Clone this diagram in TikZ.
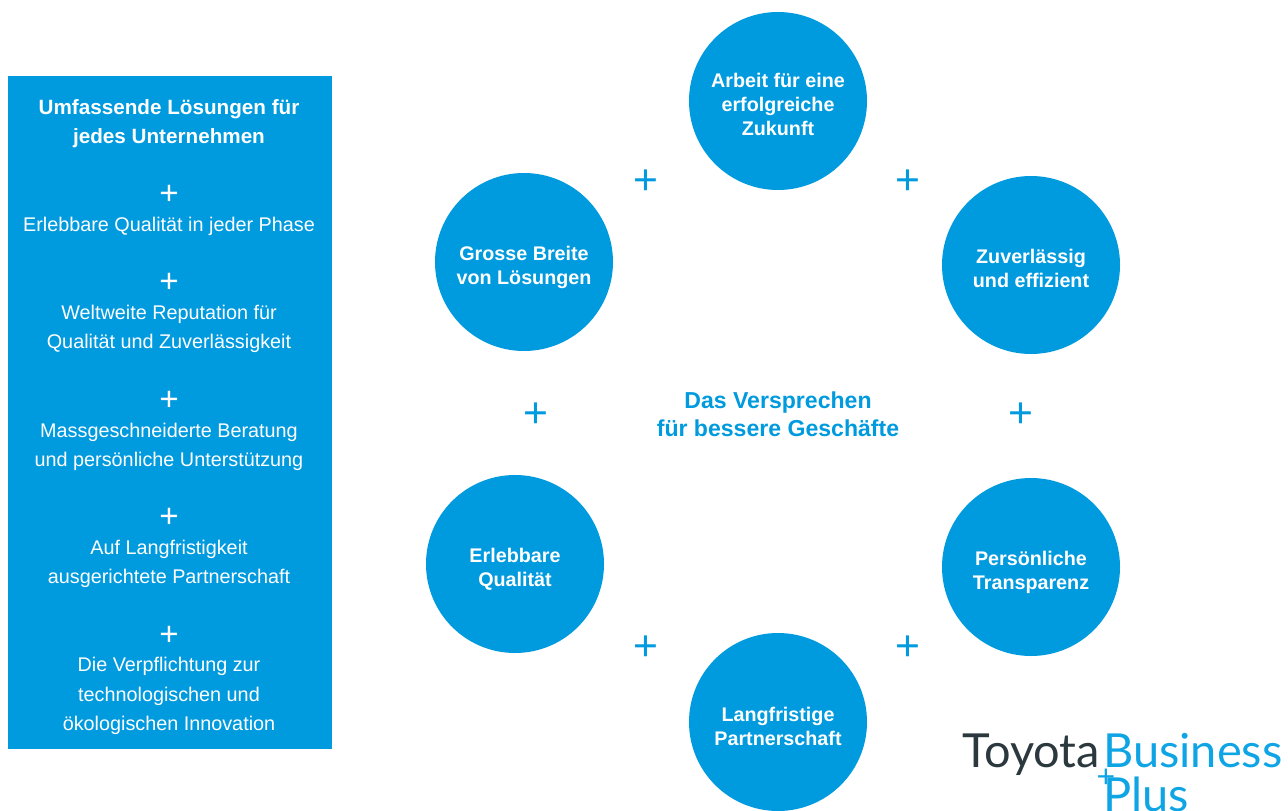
\documentclass[tikz,border=0pt]{standalone}
\usepackage{fontspec}
\setmainfont{Liberation Sans}
\newfontfamily\logofont{Lato}
\usepackage{xcolor}
\usetikzlibrary{positioning}
\definecolor{tbpblue}{HTML}{009ADE}
\definecolor{tbplogo}{HTML}{0FA5E5}
\definecolor{tbpdark}{HTML}{2B383D}
\tikzset{
	goal/.style={circle, fill=tbpblue, minimum size=133.5pt, inner sep=0pt},
	goaltext/.style={text=white, inner sep=0pt, align=center, font=\fontsize{14.8}{18}\selectfont\bfseries},
	panel/.style={fill=tbpblue, inner sep=0pt, minimum width=243pt, minimum height=505pt},
	paneltitle/.style={text=white, align=center, inner sep=0pt, font=\fontsize{15.5}{22}\selectfont\bfseries},
	paneltext/.style={text=white, align=center, inner sep=0pt, font=\fontsize{14.85}{22}\selectfont},
	panelplus/.style={text=white, inner sep=0pt, font=\fontsize{25}{25}\selectfont},
	ringplus/.style={text=tbpblue, inner sep=0pt, font=\fontsize{32}{32}\selectfont},
	logo/.style={inner sep=0pt, anchor=base west, font=\logofont\fontsize{35.2}{36}\selectfont}
}
\begin{document}
\begin{tikzpicture}[x=0.75pt, y=-0.75pt]
		\useasboundingbox (0,0) rectangle (1288,810);
		% left panel
		\node[panel] (panel) at (170,412.5) {};
		\node[paneltitle] (title) at (169,123.5) {Umfassende Lösungen für\\jedes Unternehmen};
		\node[panelplus] (p1) at (169,195) {+};
		\node[paneltext] (t1) at (169,226) {Erlebbare Qualität in jeder Phase};
		\node[panelplus] (p2) at (169,283) {+};
		\node[paneltext] (t2) at (169,329) {Weltweite Reputation für\\Qualität und Zuverlässigkeit};
		\node[panelplus] (p3) at (169,401) {+};
		\node[paneltext] (t3) at (169,447) {Massgeschneiderte Beratung\\und persönliche Unterstützung};
		\node[panelplus] (p4) at (169,518) {+};
		\node[paneltext] (t4) at (169,564) {Auf Langfristigkeit\\ausgerichtete Partnerschaft};
		\node[panelplus] (p5) at (169,636) {+};
		\node[paneltext] (t5) at (169,696) {Die Verpflichtung zur\\technologischen und\\ökologischen Innovation};
		% ring
		\node[goal] (arbeit) at (778,101) {};
		\node[goal] (zuverl) at (1031,265) {};
		\node[goal] (transp) at (1031,567) {};
		\node[goal] (partner) at (778,722) {};
		\node[goal] (quali) at (515,564) {};
		\node[goal] (breite) at (524,262) {};
		\node[goaltext] (arbeittext) at (778,104) {Arbeit für eine\\erfolgreiche\\Zukunft};
		\node[goaltext] (zuverltext) at (1031,268) {Zuverlässig\\und effizient};
		\node[goaltext] (transptext) at (1031,572) {Persönliche\\Transparenz};
		\node[goaltext] (partnertext) at (778,726) {Langfristige\\Partnerschaft};
		\node[goaltext] (qualitext) at (515,569) {Erlebbare\\Qualität};
		\node[goaltext] (breitetext) at (524,267) {Grosse Breite\\von Lösungen};
		\node[ringplus] (r1) at (646,182.5) {+};
		\node[ringplus] (r2) at (908,182.5) {+};
		\node[ringplus] (r3) at (1021,415.5) {+};
		\node[ringplus] (r4) at (908,648.5) {+};
		\node[ringplus] (r5) at (646,648.5) {+};
		\node[ringplus] (r6) at (536,415.5) {+};
		\node[text=tbpblue, align=center, inner sep=0pt, font=\fontsize{17.3}{21}\selectfont\bfseries] (promise) at (778,414) {Das Versprechen\\für bessere Geschäfte};
		% logo
		\node[logo, text=tbpdark] (toyota) at (962,767) {Toyota};
		\node[logo, text=tbplogo] (business) at (1103,767) {Business};
		\node[logo, text=tbplogo] (plus) at (1103,811) {Plus};
		\node[text=tbplogo, inner sep=0pt, font=\fontsize{24}{24}\selectfont] (logoplus) at (1106,778) {+};
\end{tikzpicture}
\end{document}
